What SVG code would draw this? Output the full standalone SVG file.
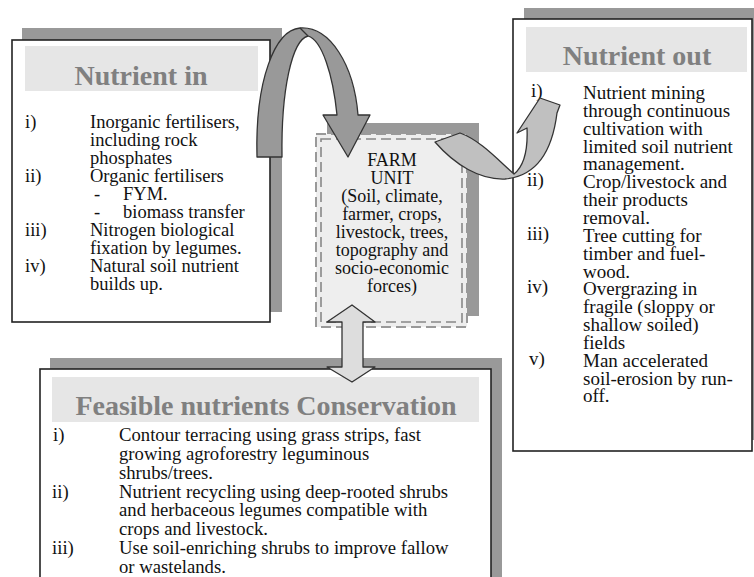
<svg xmlns="http://www.w3.org/2000/svg" width="754" height="577" viewBox="0 0 754 577">
<style>
.shadow{fill:#999999}
.box{fill:#ffffff;stroke:#222;stroke-width:1.6}
.band{fill:#e6e6e6}
.title{font-family:"Liberation Serif",serif;font-weight:bold;font-size:28px;fill:#808080;text-anchor:middle}
.t{font-family:"Liberation Serif",serif;font-size:18.5px;fill:#111}
.to{font-family:"Liberation Serif",serif;font-size:19px;fill:#111}
.tc{font-family:"Liberation Serif",serif;font-size:18.7px;fill:#111}
.tf{font-family:"Liberation Serif",serif;font-size:18px;fill:#111;text-anchor:middle}
.arrow{stroke:#333;stroke-width:1.3;stroke-linejoin:round}
</style>
<rect width="754" height="577" fill="#ffffff"/>

<g id="nutrient-in">
<rect class="shadow" x="22" y="28" width="260" height="284"/>
<rect class="box" x="12" y="40" width="258" height="282"/>
<rect class="band" x="25" y="46" width="233" height="45"/>
<text class="title" x="141" y="85">Nutrient in</text>
<text class="t" x="25" y="128">i)</text>
<text class="t" x="90" y="128">Inorganic fertilisers,</text>
<text class="t" x="90" y="146">including rock</text>
<text class="t" x="90" y="164">phosphates</text>
<text class="t" x="25" y="182">ii)</text>
<text class="t" x="90" y="182">Organic fertilisers</text>
<text class="t" x="94" y="200">-</text>
<text class="t" x="123" y="200">FYM.</text>
<text class="t" x="94" y="218">-</text>
<text class="t" x="123" y="218">biomass transfer</text>
<text class="t" x="25" y="236">iii)</text>
<text class="t" x="90" y="236">Nitrogen biological</text>
<text class="t" x="90" y="254">fixation by legumes.</text>
<text class="t" x="25" y="272">iv)</text>
<text class="t" x="90" y="272">Natural soil nutrient</text>
<text class="t" x="90" y="290">builds up.</text>
</g>

<g id="nutrient-out">
<rect class="shadow" x="524" y="8" width="240" height="432"/>
<rect class="box" x="513" y="19" width="239" height="432"/>
<rect class="band" x="526" y="27" width="221" height="45"/>
<text class="title" x="637" y="65">Nutrient out</text>
<text class="to" x="531" y="97">i)</text>
<text class="to" x="583" y="99">Nutrient mining</text>
<text class="to" x="583" y="117">through continuous</text>
<text class="to" x="583" y="135">cultivation with</text>
<text class="to" x="583" y="153">limited soil nutrient</text>
<text class="to" x="583" y="170">management.</text>
<text class="to" x="527" y="186">ii)</text>
<text class="to" x="583" y="188">Crop/livestock and</text>
<text class="to" x="583" y="206">their products</text>
<text class="to" x="583" y="224">removal.</text>
<text class="to" x="527" y="240">iii)</text>
<text class="to" x="583" y="242">Tree cutting for</text>
<text class="to" x="583" y="260">timber and fuel-</text>
<text class="to" x="583" y="278">wood.</text>
<text class="to" x="527" y="293">iv)</text>
<text class="to" x="583" y="295">Overgrazing in</text>
<text class="to" x="583" y="313">fragile (sloppy or</text>
<text class="to" x="583" y="331">shallow soiled)</text>
<text class="to" x="583" y="349">fields</text>
<text class="to" x="529" y="365">v)</text>
<text class="to" x="583" y="367">Man accelerated</text>
<text class="to" x="583" y="385">soil-erosion by run-</text>
<text class="to" x="583" y="402">off.</text>
</g>

<g id="conservation">
<rect class="shadow" x="50" y="358" width="452" height="230"/>
<rect class="box" x="40" y="369" width="451" height="230"/>
<rect class="band" x="52" y="377" width="427" height="45"/>
<text class="title" x="266" y="415">Feasible nutrients Conservation</text>
<text class="tc" x="53" y="441">i)</text>
<text class="tc" x="119" y="441">Contour terracing using grass strips, fast</text>
<text class="tc" x="119" y="460">growing agroforestry leguminous</text>
<text class="tc" x="119" y="479">shrubs/trees.</text>
<text class="tc" x="52" y="498">ii)</text>
<text class="tc" x="119" y="498">Nutrient recycling using deep-rooted shrubs</text>
<text class="tc" x="119" y="516">and herbaceous legumes compatible with</text>
<text class="tc" x="119" y="535">crops and livestock.</text>
<text class="tc" x="52" y="554">iii)</text>
<text class="tc" x="119" y="554">Use soil-enriching shrubs to improve fallow</text>
<text class="tc" x="119" y="573">or wastelands.</text>
</g>

<g id="farm-unit">
<rect class="shadow" x="327" y="123" width="152" height="193"/>
<rect x="316" y="134" width="151" height="193" fill="#eeeeee" stroke="#999" stroke-width="2" stroke-dasharray="10,5"/>
<rect x="321" y="139" width="141" height="183" fill="none" stroke="#888" stroke-width="1.6" stroke-dasharray="10,5"/>
<text class="tf" x="392" y="166">FARM</text>
<text class="tf" x="392" y="184">UNIT</text>
<text class="tf" x="392" y="202">(Soil, climate,</text>
<text class="tf" x="392" y="220">farmer, crops,</text>
<text class="tf" x="392" y="238">livestock, trees,</text>
<text class="tf" x="392" y="256">topography and</text>
<text class="tf" x="392" y="274">socio-economic</text>
<text class="tf" x="392" y="292">forces)</text>
</g>

<g id="connectors">
<path class="arrow" fill="#999999" d="M257,157 C255,80 275,30 300,28 C330,26 354,65 358,115 L370,115 L348,157 L323,115 L337,115 C333,75 322,40 308,36 C292,40 281,90 282,157 Z"/>
<path class="arrow" fill="none" d="M300,28 L308,36"/>
<path class="arrow" fill="#c0c0c0" d="M435,142 C455,165 480,180 505,179 C540,176 553,145 557,113 L560,105 L540,98 L517,133 L527,128 C528,150 524,166 514,174 C498,160 480,140 460,133 Z"/>
<path class="arrow" fill="#dddddd" d="M352,305 L375,322 L363,322 L363,367 L375,367 L352,382 L327,367 L342,367 L342,322 L327,322 Z"/>
</g>
</svg>
